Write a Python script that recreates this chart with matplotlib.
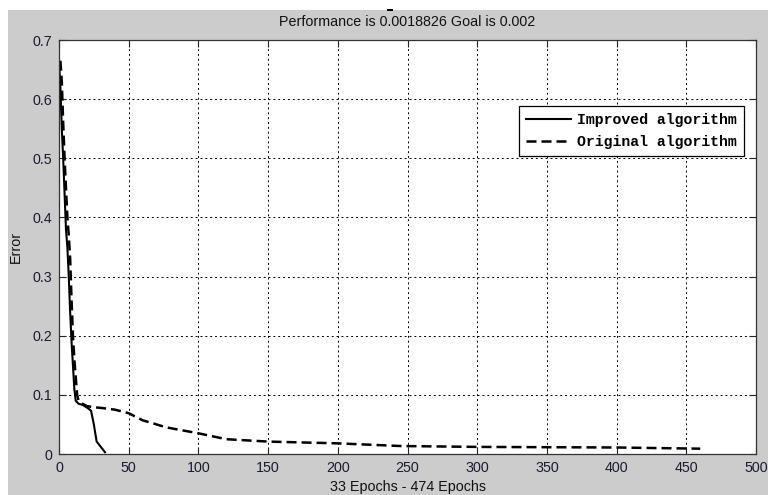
import matplotlib
matplotlib.use("Agg")
import matplotlib.pyplot as plt
from matplotlib.patches import Rectangle

improved_epochs = [0, 1, 2, 3, 4, 5, 6, 7, 8, 9, 10, 11, 12, 14, 17, 19, 21, 23, 25, 27, 30, 33]
improved_error = [0.665, 0.62, 0.55, 0.50, 0.44, 0.38, 0.35, 0.30, 0.24, 0.19, 0.15, 0.11, 0.09,
                  0.085, 0.083, 0.080, 0.077, 0.073, 0.050, 0.021, 0.012, 0.003]

original_epochs = [1, 2, 3, 4, 5, 6, 7, 8, 9, 10, 11, 12, 13, 14, 16, 20, 25, 30, 40, 50, 60, 77,
                   100, 120, 150, 200, 245, 300, 400, 460]
original_error = [0.665, 0.63, 0.56, 0.50, 0.45, 0.40, 0.37, 0.33, 0.26, 0.20, 0.16, 0.13, 0.10,
                  0.09, 0.086, 0.081, 0.079, 0.078, 0.075, 0.069, 0.057, 0.045, 0.035, 0.025,
                  0.021, 0.018, 0.0135, 0.012, 0.011, 0.009]

xticks = [0, 50, 100, 150, 200, 250, 300, 350, 400, 450, 500]
yticks = [0, 0.1, 0.2, 0.3, 0.4, 0.5, 0.6, 0.7]
ytick_labels = ["0", "0.1", "0.2", "0.3", "0.4", "0.5", "0.6", "0.7"]

plt.rcParams['font.family'] = ['Liberation Sans', 'DejaVu Sans']

W, H = 768, 495
fig = plt.figure(figsize=(W / 100, H / 100), dpi=100, facecolor='#cccccc')
# white strips at top and left
fig.add_artist(Rectangle((0, 1 - 10 / H), 1, 10 / H, transform=fig.transFigure,
                         facecolor='white', edgecolor='none', zorder=0))
fig.add_artist(Rectangle((0, 0), 8 / W, 1, transform=fig.transFigure,
                         facecolor='white', edgecolor='none', zorder=0))
fig.add_artist(Rectangle((387 / W, 1 - 11 / H), 6 / W, 2 / H, transform=fig.transFigure,
                         facecolor='black', edgecolor='none', zorder=1))

ax = fig.add_axes([59 / W, 41 / H, (756 - 59) / W, (454 - 40) / H])
ax.set_facecolor('white')

ax.plot(improved_epochs, improved_error, color='black', lw=1.5, label='Improved algorithm')
ax.plot(original_epochs, original_error, color='black', lw=1.8, linestyle=(0, (4, 2)),
        label='Original algorithm')

ax.set_xlim(0, 500)
ax.set_ylim(0, 0.7)
ax.set_xticks(xticks)
ax.set_yticks(yticks)
ax.set_yticklabels(ytick_labels)
ax.tick_params(direction='in', top=True, right=True, length=5, width=0.8,
               labelsize=10.3, colors='#222222', labelcolor='#1a1a33', pad=5)
ax.grid(True, color='black', linestyle=(0, (2, 3)), lw=0.7)
for s in ax.spines.values():
    s.set_color('#333333')
    s.set_linewidth(0.9)

ax.set_title('Performance is 0.0018826 Goal is 0.002', fontsize=10.3, pad=10, color='#111111')
ax.set_xlabel('33 Epochs - 474 Epochs', fontsize=10.3, labelpad=4, color='#111111')
ax.set_ylabel('Error', fontsize=10.3, labelpad=7, color='#111111')

leg = ax.legend(loc='upper right', bbox_to_anchor=((744 - 59) / (756 - 59), (454 - 106) / (454 - 40)),
                prop={'family': 'Liberation Mono', 'weight': 'bold', 'size': 10.7},
                frameon=True, fancybox=False, edgecolor='black', framealpha=1,
                handlelength=3.0, handletextpad=0.4, borderpad=0.5, labelspacing=0.5,
                borderaxespad=0)
leg.get_frame().set_linewidth(0.9)

fig.savefig('out.png', dpi=100, facecolor=fig.get_facecolor())
